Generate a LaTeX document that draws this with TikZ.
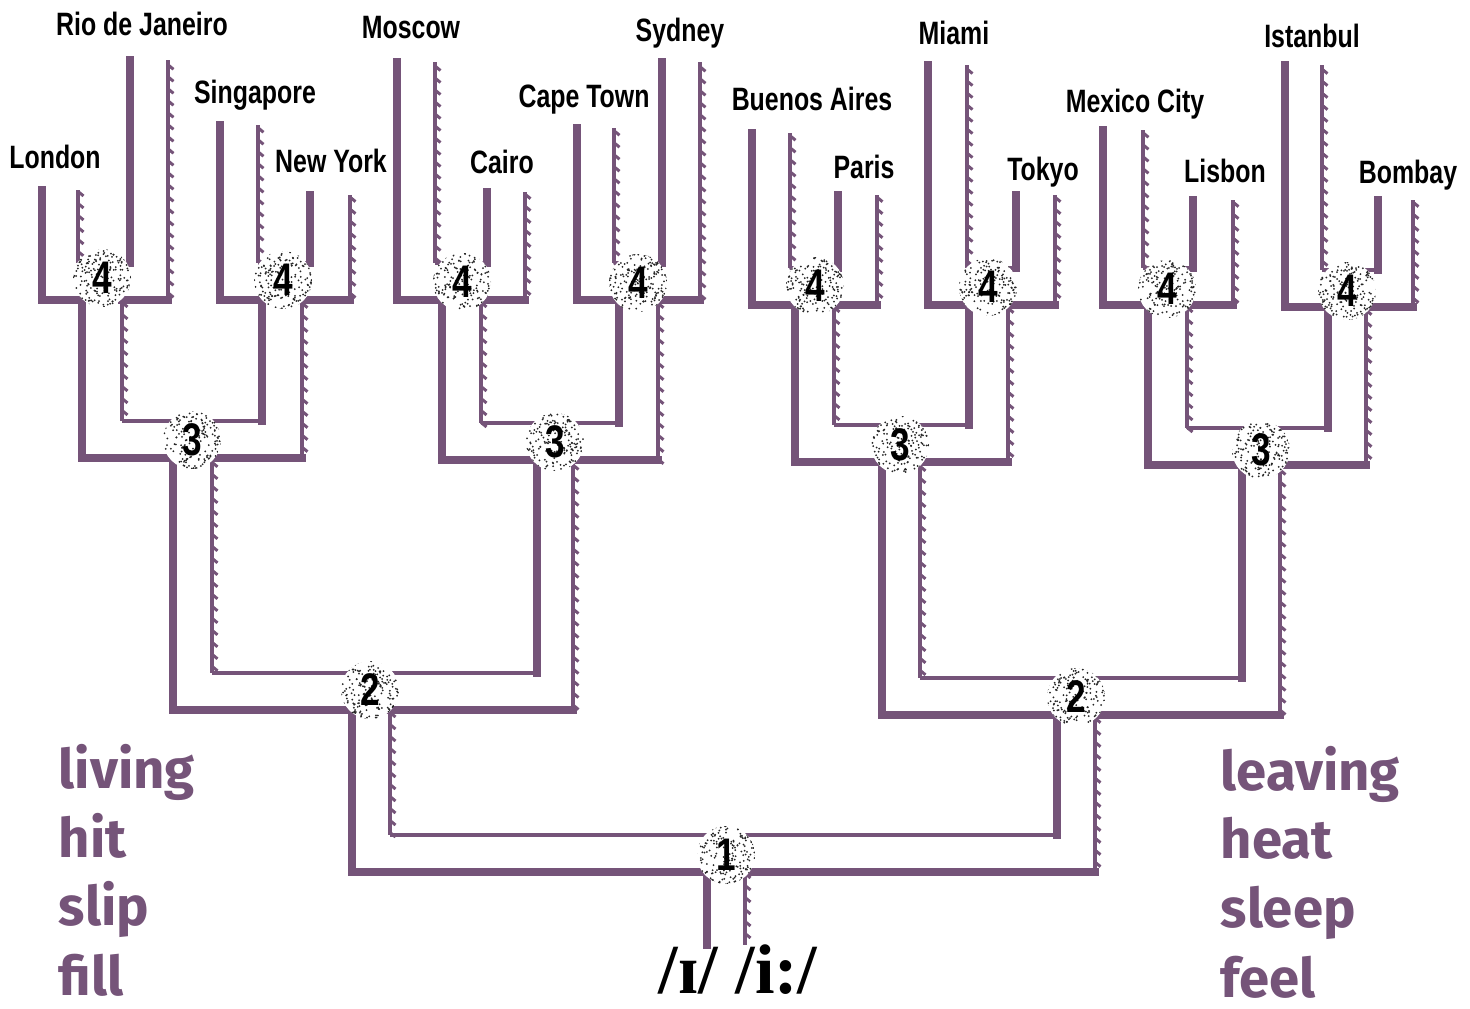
\documentclass[tikz,border=0pt]{standalone}
\usepackage{fontspec}
\usepackage{xcolor}
\usepackage{tikz}
\usetikzlibrary{decorations.markings}
\newfontfamily\cityfont{Liberation Sans}[FakeStretch=0.77]
\newfontfamily\wordfont{Fira Sans}
\newfontfamily\ipafont{Liberation Serif}
\definecolor{mazepurple}{RGB}{117, 84, 121}

\tikzset{
  wall/.style={mazepurple, line width=0.8mm, line cap=rect},
  topwall/.style={mazepurple, line width=0.45mm},
  shadewall/.style={mazepurple, line width=0.38mm, postaction={decorate},
    decoration={markings, mark=between positions 0.02 and 1 step 1.2mm with
      {\draw[mazepurple, line width=0.3mm] (0,0) -- (0.45mm,0.55mm);}}},
  city/.style={anchor=base, inner sep=0pt, font=\cityfont\bfseries\fontsize{9.2}{10}\selectfont},
  word/.style={anchor=base west, inner sep=0pt, text=mazepurple, font=\wordfont\bfseries\fontsize{15.5}{16}\selectfont},
  spot/.style={circle, fill=white, minimum size=5.8mm, inner sep=0pt,
    font=\cityfont\bfseries\fontsize{13}{13}\selectfont,
    path picture={\foreach \k in {1,...,220}
      {\fill[black!85] ([shift={(rand*3mm,rand*3mm)}]path picture bounding box.center) circle (0.1mm);}}}
}

% one T of the maze: left branch, right branch, stem, inner top
\newcommand{\pipetee}[9]{%
  \draw[wall] (#1,#3) -- (#1,#9+37) -- (#7,#9+37);
  \draw[wall] (#5,#9+37) -- (#8,#9+37);
  \draw[wall] (#4,#6) -- (#4,#9);
  \draw[shadewall] (#2,#3) -- (#2,#9);
  \draw[shadewall] (#5,#6) -- (#5,#9+37);
  \draw[topwall] (#2,#9) -- (#4,#9);
}

\begin{document}
\begin{tikzpicture}[x=0.1mm, y=-0.1mm]
    \useasboundingbox (0,0) rectangle (1470,1009);
    \pgfmathsetseed{11}

    % Round 4
    \pipetee{42}{78}{190}{130}{168}{60}{82}{122}{263}
    \pipetee{220}{258}{125}{310}{350}{195}{262}{302}{263}
    \pipetee{397}{435}{62}{487}{525}{192}{442}{481}{263}
    \pipetee{577}{614}{128}{662}{700}{62}{619}{658}{263}
    \pipetee{752}{790}{133}{838}{877}{195}{795}{834}{268}
    \pipetee{928}{967}{65}{1016}{1055}{195}{969}{1008}{268}
    \pipetee{1103}{1143}{130}{1193}{1233}{200}{1148}{1187}{268}
    \pipetee{1285}{1322}{65}{1378}{1413}{200}{1328}{1366}{270}

    % Round 3
    \pipetee{82}{122}{300}{262}{302}{300}{173}{212}{421}
    \pipetee{442}{481}{300}{619}{658}{300}{537}{573}{423}
    \pipetee{795}{834}{305}{969}{1008}{305}{882}{920}{425}
    \pipetee{1148}{1187}{305}{1328}{1366}{307}{1242}{1280}{428}

    % Round 2 and final
    \pipetee{173}{212}{458}{537}{573}{460}{352}{390}{673}
    \pipetee{882}{920}{462}{1242}{1280}{465}{1057}{1095}{678}
    \pipetee{352}{390}{710}{1057}{1095}{715}{707}{745}{835}
    \draw[wall] (707,872) -- (707,945);
    \draw[shadewall] (745,872) -- (745,945);

    % Cities
    \node[city] (rio) at (142,35) {Rio de Janeiro};
    \node[city] (moscow) at (411,38) {Moscow};
    \node[city] (sydney) at (680,41) {Sydney};
    \node[city] (miami) at (954,44) {Miami};
    \node[city] (istanbul) at (1312,47) {Istanbul};
    \node[city] (singapore) at (255,103) {Singapore};
    \node[city] (capetown) at (584,107) {Cape Town};
    \node[city] (buenosaires) at (812,110) {Buenos Aires};
    \node[city] (mexicocity) at (1135,112) {Mexico City};
    \node[city] (london) at (55,168) {London};
    \node[city] (newyork) at (331,172) {New York};
    \node[city] (cairo) at (502,173) {Cairo};
    \node[city] (paris) at (864,178) {Paris};
    \node[city] (tokyo) at (1043,180) {Tokyo};
    \node[city] (lisbon) at (1225,182) {Lisbon};
    \node[city] (bombay) at (1408,183) {Bombay};

    % Numbered junctions
    \node[spot] (r4a) at (102,278) {4};
    \node[spot] (r4b) at (283,280) {4};
    \node[spot] (r4c) at (462,282) {4};
    \node[spot] (r4d) at (638,283) {4};
    \node[spot] (r4e) at (815,286) {4};
    \node[spot] (r4f) at (988,287) {4};
    \node[spot] (r4g) at (1167,289) {4};
    \node[spot] (r4h) at (1347,291) {4};
    \node[spot] (r3a) at (192,440) {3};
    \node[spot] (r3b) at (555,442) {3};
    \node[spot] (r3c) at (900,445) {3};
    \node[spot] (r3d) at (1261,450) {3};
    \node[spot] (r2a) at (370,690) {2};
    \node[spot] (r2b) at (1076,697) {2};
    \node[spot] (r1) at (726,855) {1};

    % Words
    \node[word] (living) at (58,788) {living};
    \node[word] (hit) at (58,857) {hit};
    \node[word] (slip) at (58,925) {slip};
    \node[word] (fill) at (58,995) {fill};
    \node[word] (leaving) at (1220,790) {leaving};
    \node[word] (heat) at (1220,858) {heat};
    \node[word] (sleep) at (1220,927) {sleep};
    \node[word] (feel) at (1220,997) {feel};

    \node[anchor=base, inner sep=0pt, font=\ipafont\bfseries\fontsize{20}{21}\selectfont] (sounds) at (738,993) {/ɪ/ /i:/};
\end{tikzpicture}
\end{document}
